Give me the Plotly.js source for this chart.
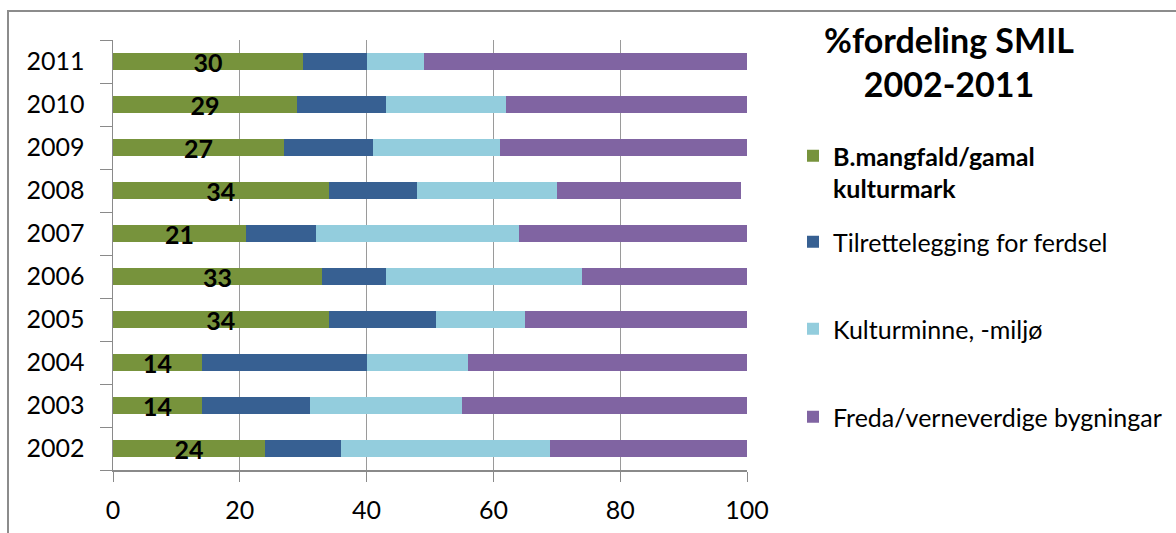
<!DOCTYPE html>
<html>
<head>
<meta charset="utf-8">
<script src="https://cdn.plot.ly/plotly-3.0.1.min.js"></script>
<style>
html,body{margin:0;padding:0;background:#fff;}
#chart{width:1176px;height:533px;}
</style>
</head>
<body>
<div id="chart"></div>
<script>
const years = ['2002','2003','2004','2005','2006','2007','2008','2009','2010','2011'];
const seriesNames = ['<b>B.mangfald/gamal<br>kulturmark</b>', 'Tilrettelegging for ferdsel', 'Kulturminne, -miljø', 'Freda/verneverdige bygningar'];
const biomangfald = [24, 14, 14, 34, 33, 21, 34, 27, 29, 30];
const ferdsel     = [12, 17, 26, 17, 10, 11, 14, 14, 14, 10];
const kulturminne = [33, 24, 16, 14, 31, 32, 22, 20, 19,  9];
const freda       = [31, 45, 44, 35, 26, 36, 29, 39, 38, 51];
const colors = ['#77933C', '#376092', '#93CDDD', '#8064A2'];
const xTicks = [0, 20, 40, 60, 80, 100];

const FONT = 'Lato, "Open Sans", sans-serif';
const values = [biomangfald, ferdsel, kulturminne, freda];
const legendIds = ['legend', 'legend2', 'legend3', 'legend4'];

const traces = values.map((v, i) => {
  const t = {
    type: 'bar',
    orientation: 'h',
    y: years,
    x: v,
    name: seriesNames[i],
    marker: {color: colors[i], line: {width: 0}},
    legend: legendIds[i],
    showlegend: true,
    hoverinfo: 'x+name'
  };
  if (i === 0) {
    t.text = v.map(String);
    t.textposition = 'inside';
    t.insidetextanchor = 'middle';
    t.textangle = 0;
    t.constraintext = 'none';
    t.textfont = {family: FONT, size: 25, color: '#000', weight: 'bold'};
  } else {
    t.textposition = 'none';
  }
  return t;
});

const legendCenters = [172, 242, 329, 417];
const W = 1176, H = 533;
const plotTop = 40, plotBottom = 470, plotLeft = 113, plotRight = 747;
const toPaperY = px => (plotBottom - px) / (plotBottom - plotTop);
const toPaperX = px => (px - plotLeft) / (plotRight - plotLeft);

const layout = {
  width: W,
  height: H,
  showlegend: true,
  margin: {l: plotLeft, r: W - plotRight, t: plotTop, b: H - plotBottom, pad: 0, autoexpand: false},
  paper_bgcolor: '#fff',
  plot_bgcolor: '#fff',
  barmode: 'stack',
  bargap: 0.62,
  font: {family: FONT, color: '#000'},
  title: {
    text: '<b>%fordeling SMIL<br>2002-2011</b>',
    font: {family: FONT, size: 34, color: '#000'},
    xref: 'container', yref: 'container',
    x: 949 / W, xanchor: 'center',
    y: 1 - 53 / H, yanchor: 'middle'
  },
  xaxis: {
    range: [0, 100],
    tickvals: xTicks,
    ticktext: xTicks.map(String),
    showgrid: true,
    gridcolor: '#9a9a9a',
    gridwidth: 1,
    zeroline: false,
    showline: true,
    linecolor: '#8a8a8a',
    linewidth: 1.5,
    ticks: 'outside',
    ticklen: 10,
    tickcolor: '#8a8a8a',
    ticklabelstandoff: 7,
    tickfont: {family: FONT, size: 25, color: '#000'},
    fixedrange: true
  },
  yaxis: {
    type: 'category',
    categoryorder: 'array',
    categoryarray: years,
    showgrid: false,
    zeroline: false,
    showline: true,
    linecolor: '#8a8a8a',
    linewidth: 1.5,
    ticks: 'outside',
    tickson: 'boundaries',
    ticklen: 12,
    tickcolor: '#8a8a8a',
    ticklabelstandoff: 22,
    tickfont: {family: FONT, size: 25, color: '#000'},
    fixedrange: true
  },
  shapes: [{
    type: 'rect', xref: 'paper', yref: 'paper',
    x0: toPaperX(8), x1: 2.5, y0: -0.5, y1: toPaperY(11),
    line: {color: '#8c8c8c', width: 2}, fillcolor: 'rgba(0,0,0,0)'
  }]
};

legendIds.forEach((id, i) => {
  layout[id] = {
    visible: true,
    x: 793 / W, xanchor: 'left', xref: 'container',
    y: 1 - legendCenters[i] / H, yanchor: 'middle', yref: 'container',
    bgcolor: 'rgba(0,0,0,0)',
    borderwidth: 0,
    valign: i === 0 ? 'top' : 'middle',
    font: {family: FONT, size: 25, color: '#000'}
  };
});

Plotly.newPlot('chart', traces, layout, {displayModeBar: false, staticPlot: true});
</script>
</body>
</html>
